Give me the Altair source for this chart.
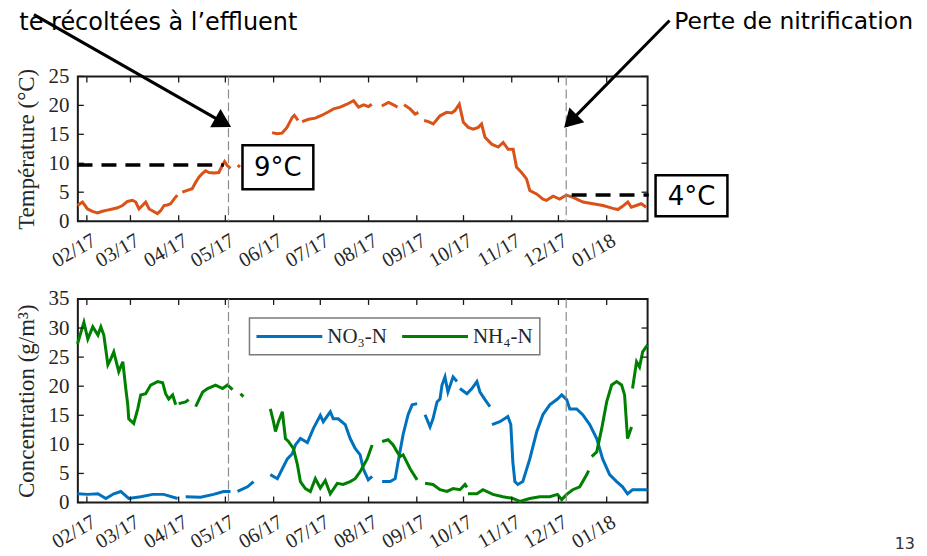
import altair as alt
import pandas as pd

# ---------------- data (days counted from 2017-02-01) ----------------
START = pd.Timestamp("2017-02-01")

# Temperature (°C); None = gap in the record
temp_day = [-6.0, -2.8, 0.4, 3.6, 6.8, 10.0, 13.2, 16.5, 19.7, 22.9, 26.1, 29.3, 31.4, 33.5, 35.7,
            37.8, 40.0, 42.1, 45.3, 47.4, 49.6, 51.7, 53.8, 56.0, 58.1, None,
            61.3, 64.5, 67.7, 69.9, 72.0, 74.1, 76.3, 78.4, 81.6, 84.8, 87.0, 88.5, 90.2, 92.3, None,
            97.0, 98.3, None,
            119.0, 122.2, 125.4, 128.6, 131.9, 133.3, 135.7, None,
            138.3, 142.5, 146.8, 151.1, 155.3, 158.5, 162.8, 167.1, 171.4, 174.6, 177.8, 181.0, 183.1, None,
            189.5, 193.8, 197.0, 199.6, None,
            203.8, 207.7, 210.9, 213.0, None,
            216.7, 219.4, 222.6, 226.9, 231.2, 234.4, 236.5, 239.3, 241.9, 245.1, 248.3, 251.5, 253.6,
            255.8, 260.1, 264.3, 267.5, 270.7, 273.9, 276.1, 279.3, 282.5, 284.6, 288.9, 293.1, 295.3,
            299.6, 303.8, 308.1, 312.4, 318.8, 325.2, 331.6, 338.0, 341.2, 344.4, 347.6, 349.8, 353.0,
            356.2, 359.4]
temp_val = [2.7, 3.3, 2.1, 1.7, 1.4, 1.7, 1.9, 2.1, 2.3, 2.7, 3.4, 3.6, 3.3, 2.1, 2.7,
            3.3, 2.1, 1.8, 1.3, 1.8, 2.7, 2.8, 3.0, 3.8, 4.5, None,
            5.0, 5.3, 5.6, 6.7, 7.6, 8.2, 8.7, 8.4, 8.3, 8.4, 9.6, 10.3, 9.6, 9.1, None,
            9.3, 9.7, None,
            15.3, 15.1, 15.2, 16.2, 17.9, 18.3, 17.4, None,
            17.2, 17.6, 17.8, 18.3, 18.9, 19.4, 19.7, 20.2, 20.8, 19.7, 20.1, 19.8, 20.2, None,
            19.9, 20.5, 20.1, 19.7, None,
            20.1, 19.4, 18.5, 18.8, None,
            17.4, 17.2, 16.8, 18.2, 18.8, 18.7, 19.1, 20.2, 17.1, 16.2, 15.9, 16.2, 16.8,
            14.5, 13.3, 12.8, 13.6, 12.4, 12.4, 9.3, 8.4, 7.3, 5.3, 4.7, 3.8, 3.6,
            4.3, 3.8, 4.5, 4.1, 3.3, 3.0, 2.7, 2.2, 2.0, 2.6, 3.3, 2.4, 2.7,
            3.0, 2.4]

# NO3-N (g/m3)
no3_day = [-6.0, 0.6, 7.1, 12.2, 17.3, 21.8, 26.9, 34.6, 42.3, 49.4, 58.3, None,
           63.5, 73.1, 81.4, 87.8, 92.3, None,
           96.8, 103.2, 107.1, None,
           117.9, 122.4, 125.6, 128.8, 132.0, 134.0, 137.2, 141.7, 145.5, 150.0, 151.9, 156.4, 158.3,
           161.5, 166.0, 169.2, 172.4, 175.6, 177.6, 180.8, 183.3, None,
           189.7, 194.9, 198.1, 200.0, 203.2, 206.4, 209.0, 212.2, None,
           217.3, 220.5, 222.4, 225.0, 226.9, 228.2, 230.1, 232.0, 235.3, 237.8, None,
           239.7, 244.2, 247.4, 250.6, 252.6, 255.8, 259.0, None,
           260.3, 265.4, 270.5, 272.4, 273.7, 275.0, 276.9, 280.1, 284.6, 289.1, 293.0, 297.4, 302.4,
           305.1, 308.3, 310.3, 314.7, 318.6, 323.1, 327.6, 331.4, 335.9, 340.4, 344.2, 347.4, 350.6,
           360.3]
no3_val = [1.5, 1.4, 1.5, 0.7, 1.5, 1.9, 0.7, 1.0, 1.4, 1.4, 0.7, None,
           1.0, 0.9, 1.4, 1.9, 1.9, None,
           1.9, 2.7, 3.6, None,
           4.8, 4.1, 5.8, 7.5, 8.4, 9.9, 11.0, 10.3, 12.7, 15.0, 13.9, 15.6, 14.4,
           14.4, 13.4, 11.0, 9.3, 8.2, 5.8, 3.9, 4.5, None,
           3.6, 3.6, 4.1, 7.0, 11.7, 15.1, 16.8, 17.0, None,
           15.1, 13.0, 14.4, 17.3, 17.8, 20.2, 21.6, 19.0, 21.6, 20.8, None,
           19.6, 18.7, 19.6, 20.8, 19.0, 17.7, 16.5, None,
           13.4, 13.9, 14.8, 13.4, 7.0, 3.6, 3.1, 3.6, 7.5, 12.2, 15.1, 16.8, 17.8,
           18.5, 17.7, 16.1, 16.1, 15.1, 13.4, 11.0, 7.5, 4.8, 3.6, 2.7, 1.5, 2.2,
           2.2]

# NH4-N (g/m3)
nh4_day = [-6.0, -3.8, -1.9, 0.6, 3.8, 7.1, 9.0, 10.9, 13.5, 15.4, 17.3, 20.5, 23.1, 25.0, 26.3,
           26.9, 30.1, 32.7, 34.6, 37.8, 41.0, 45.5, 48.7, 50.6, 52.6, 55.1, 57.1, None,
           59.0, 63.5, 65.4, None,
           69.9, 74.4, 77.6, 82.7, 87.2, 90.4, 93.6, None,
           98.7, 100.6, None,
           117.9, 119.9, 121.2, 123.1, 125.6, 127.6, 129.5, 132.7, 135.3, 137.2, 140.4, 143.6, 146.8,
           150.0, 153.2, 156.4, 160.9, 164.7, 169.2, 172.4, 175.6, 180.1, 183.3, None,
           189.7, 193.6, 196.8, 199.4, 201.3, 203.2, 207.7, 212.2, None,
           217.3, 222.4, 226.9, 231.4, 235.3, 239.7, 243.0, 244.2, None,
           244.9, 250.6, 254.5, 260.9, 267.3, 273.7, 278.2, 284.6, 291.0, 297.4, 302.4, 305.1, 308.3,
           312.2, 316.7, 321.2, 322.4, None,
           324.4, 327.6, 330.8, 334.0, 337.2, 340.4, 343.6, 345.5, 347.4, 350.0, None,
           350.6, 353.2, 355.1, 357.1, 360.3]
nh4_val = [27.3, 29.3, 31.0, 28.1, 30.2, 28.8, 30.2, 28.8, 23.7, 24.7, 25.9, 22.5, 24.2, 19.6, 16.8,
           14.4, 13.6, 16.1, 18.5, 18.7, 20.2, 20.8, 20.6, 18.7, 17.8, 18.5, 16.8, None,
           17.0, 17.3, 17.7, None,
           16.5, 19.0, 19.6, 20.2, 19.6, 20.2, 19.4, None,
           18.7, 18.2, None,
           16.1, 13.9, 12.2, 13.9, 15.6, 11.0, 10.5, 9.3, 6.5, 3.6, 2.4, 1.9, 4.1,
           2.5, 3.8, 1.5, 3.3, 3.1, 3.6, 4.1, 5.3, 7.5, 9.9, None,
           10.5, 10.8, 9.9, 8.7, 7.9, 8.2, 5.8, 3.9, None,
           3.3, 3.1, 2.2, 1.9, 2.4, 2.2, 3.1, 2.6, None,
           1.5, 1.5, 2.2, 1.4, 1.0, 0.7, 0.2, 0.7, 1.0, 1.0, 1.4, 0.5, 1.4,
           2.2, 2.7, 4.8, 5.5, None,
           7.9, 8.7, 12.7, 17.3, 20.2, 20.8, 20.2, 18.5, 11.0, 13.0, None,
           19.6, 24.2, 23.3, 25.9, 27.1]

series_names = ["NO\u2083-N", "NH\u2084-N"]
series_colors = ["#0072BD", "#008000"]
temp_color = "#D95319"

event_days = [91, 308]            # vertical dashed markers
threshold_start = [-6, 311.5]     # horizontal dashed thresholds
threshold_end = [88, 361]
threshold_level = [9.7, 4.5]
threshold_text = ["9°C", "4°C"]
arrow_tip_level = [16.5, 16.5]

month_ticks = pd.date_range("2017-02-01", "2018-01-01", freq="MS")
temp_ticks = [0, 5, 10, 15, 20, 25]
conc_ticks = [0, 5, 10, 15, 20, 25, 30, 35]

# ---------------- helpers ----------------
def to_date(d):
    return START + pd.Timedelta(days=d)

def series_df(days, vals, name):
    rows, seg = [], 0
    for d, v in zip(days, vals):
        if d is None:
            seg += 1
            continue
        rows.append({"date": to_date(d), "value": v, "seg": f"{name}-{seg}", "series": name})
    return pd.DataFrame(rows)

temp_df = series_df(temp_day, temp_val, "T")
conc_df = pd.concat([series_df(no3_day, no3_val, series_names[0]),
                     series_df(nh4_day, nh4_val, series_names[1])])

ev_df = pd.DataFrame({"date": [to_date(d) for d in event_days], "value": arrow_tip_level})
thr_df = pd.DataFrame({"date": [to_date(d) for d in threshold_start],
                       "date2": [to_date(d) for d in threshold_end],
                       "value": threshold_level, "label": threshold_text})
mt_df = pd.DataFrame({"date": month_ticks})
leg_df = pd.DataFrame({"series": series_names, "color": series_colors})

W, H1, H2 = 571, 145, 204
SERIF = "Liberation Serif"
SANS = "DejaVu Sans"
TXT = "#262626"

dom = [alt.DateTime(year=2017, month=1, date=26, hours=5),
       alt.DateTime(year=2018, month=1, date=27, hours=7)]
month_vals = [alt.DateTime(year=d.year, month=d.month, date=1) for d in month_ticks]

def x_enc():
    return alt.X("date:T", scale=alt.Scale(domain=dom, nice=False),
                 axis=alt.Axis(values=month_vals, format="%m/%y", labelAngle=330,
                               labelAlign="right", labelBaseline="top", labelPadding=9,
                               labelOffset=2,
                               labelFont=SERIF, labelFontSize=20.5, labelColor=TXT,
                               labelOverlap=False, labelFlush=False, labelBound=False,
                               ticks=False, domain=False, grid=False, title=None))

def y_enc(top, ticks, title):
    return alt.Y("value:Q", scale=alt.Scale(domain=[0, top], nice=False),
                 axis=alt.Axis(values=ticks, title=title, titleFont=SERIF, titleFontSize=23,
                               titleFontWeight="normal", titleColor=TXT, titlePadding=9,
                               labelFont=SERIF, labelFontSize=21, labelColor=TXT,
                               labelPadding=9, ticks=False, domain=False, grid=False))

def tick_layers(H, top, ticks, title):
    yt = pd.DataFrame({"value": ticks})
    c = "#1a1a1a"
    return [
        alt.Chart(mt_df).mark_rule(color=c, strokeWidth=1.3).encode(
            x=x_enc(), y=alt.value(0), y2=alt.value(6)),
        alt.Chart(mt_df).mark_rule(color=c, strokeWidth=1.3).encode(
            x=x_enc(), y=alt.value(H), y2=alt.value(H - 6)),
        alt.Chart(yt).mark_rule(color=c, strokeWidth=1.3).encode(
            y=y_enc(top, ticks, title), x=alt.value(0), x2=alt.value(6)),
        alt.Chart(yt).mark_rule(color=c, strokeWidth=1.3).encode(
            y=y_enc(top, ticks, title), x=alt.value(W), x2=alt.value(W - 6)),
    ]

# ---------------- top panel ----------------
ty = lambda: y_enc(25, temp_ticks, "Température (°C)")

anchor = alt.Chart(pd.DataFrame({"k": [0]})).mark_square(color="white", size=4, opacity=1).encode(
    x=alt.value(-68), y=alt.value(-65))
anchor_r = alt.Chart(pd.DataFrame({"k": [0]})).mark_square(color="white", size=4, opacity=1).encode(
    x=alt.value(841), y=alt.value(-65))

temp_line = alt.Chart(temp_df).mark_line(color=temp_color, strokeWidth=3).encode(
    x=x_enc(), y=ty(), detail="seg:N")

ev_top = alt.Chart(ev_df).mark_rule(color="#8c8c8c", strokeWidth=1.2, strokeDash=[9, 4]).encode(
    x=x_enc())

thr_rule = alt.Chart(thr_df).mark_rule(color="black", strokeWidth=3.5, strokeDash=[15, 9]).encode(
    x=x_enc(), x2="date2:T", y=ty())

arrow1 = alt.Chart(ev_df.iloc[[0]]).mark_rule(color="black", strokeWidth=3).encode(
    x=x_enc(), y=ty(), x2=alt.value(-44), y2=alt.value(-62))
head1 = alt.Chart(ev_df.iloc[[0]]).mark_point(shape="triangle", filled=True, size=441, angle=119.6,
                                             xOffset=-7.9, yOffset=-4.6, color="black", opacity=1).encode(
    x=x_enc(), y=ty())
arrow2 = alt.Chart(ev_df.iloc[[1]]).mark_rule(color="black", strokeWidth=3).encode(
    x=x_enc(), y=ty(), x2=alt.value(593), y2=alt.value(-56))
head2 = alt.Chart(ev_df.iloc[[1]]).mark_point(shape="triangle", filled=True, size=441, angle=224.7,
                                             xOffset=6.4, yOffset=-6.5, color="black", opacity=1).encode(
    x=x_enc(), y=ty())

box1 = alt.Chart(thr_df.iloc[[0]]).mark_rect(fill="white", stroke="black", strokeWidth=2.5).encode(
    x=alt.value(165), x2=alt.value(236), y=alt.value(69), y2=alt.value(113))
box1_t = alt.Chart(thr_df.iloc[[0]]).mark_text(font=SANS, fontSize=26, color="black", align="center",
                                              baseline="middle").encode(
    text="label:N", x=alt.value(200.5), y=alt.value(92))
box2 = alt.Chart(thr_df.iloc[[1]]).mark_rect(fill="white", stroke="black", strokeWidth=2.5).encode(
    x=alt.value(579), x2=alt.value(651), y=alt.value(99), y2=alt.value(140))
box2_t = alt.Chart(thr_df.iloc[[1]]).mark_text(font=SANS, fontSize=26, color="black", align="center",
                                              baseline="middle").encode(
    text="label:N", x=alt.value(615), y=alt.value(120.5))

note_df = pd.DataFrame({"t": ["te récoltées à l\u2019effluent", "Perte de nitrification"]})
note1 = alt.Chart(note_df.iloc[[0]]).mark_text(font=SANS, fontSize=24, color="black", align="right",
                                              baseline="alphabetic").encode(
    text="t:N", x=alt.value(220), y=alt.value(-47))
note2 = alt.Chart(note_df.iloc[[1]]).mark_text(font=SANS, fontSize=23.5, color="black", align="right",
                                              baseline="alphabetic").encode(
    text="t:N", x=alt.value(837), y=alt.value(-48))

top = alt.layer(
    anchor, anchor_r, temp_line, *tick_layers(H1, 25, temp_ticks, "Température (°C)"),
    ev_top, thr_rule, arrow1, arrow2, head1, head2, box1, box1_t, box2, box2_t, note1, note2
).properties(width=W, height=H1)

# ---------------- bottom panel ----------------
cy = lambda: y_enc(35, conc_ticks, "Concentration (g/m³)")

conc_lines = alt.Chart(conc_df).mark_line(strokeWidth=3).encode(
    x=x_enc(), y=cy(), detail="seg:N",
    color=alt.Color("series:N", scale=alt.Scale(domain=series_names, range=series_colors),
                    legend=None))

ev_bot = alt.Chart(ev_df).mark_rule(color="#8c8c8c", strokeWidth=1.2, strokeDash=[9, 4]).encode(
    x=x_enc())

# legend drawn as a framed key
leg_box = alt.Chart(leg_df.iloc[[0]]).mark_rect(fill="white", stroke="#7a7a7a", strokeWidth=1.5).encode(
    x=alt.value(172), x2=alt.value(463), y=alt.value(19), y2=alt.value(56))
leg_sym1 = alt.Chart(leg_df.iloc[[0]]).mark_rule(color=series_colors[0], strokeWidth=3).encode(
    x=alt.value(179), x2=alt.value(245), y=alt.value(37.5))
leg_sym2 = alt.Chart(leg_df.iloc[[1]]).mark_rule(color=series_colors[1], strokeWidth=3).encode(
    x=alt.value(325), x2=alt.value(391), y=alt.value(37.5))
leg_lab1 = alt.Chart(leg_df.iloc[[0]]).mark_text(font=SERIF, fontSize=21, color=TXT, align="left",
                                                baseline="middle").encode(
    text="series:N", x=alt.value(250), y=alt.value(38))
leg_lab2 = alt.Chart(leg_df.iloc[[1]]).mark_text(font=SERIF, fontSize=21, color=TXT, align="left",
                                                baseline="middle").encode(
    text="series:N", x=alt.value(396), y=alt.value(38))

page_no = alt.Chart(pd.DataFrame({"t": ["13"]})).mark_text(font=SANS, fontSize=16, color="#333333",
                                                          align="right", baseline="alphabetic").encode(
    text="t:N", x=alt.value(839), y=alt.value(251))

bottom = alt.layer(
    conc_lines, *tick_layers(H2, 35, conc_ticks, "Concentration (g/m³)"), ev_bot,
    leg_box, leg_sym1, leg_sym2, leg_lab1, leg_lab2, page_no
).properties(width=W, height=H2)

chart = alt.vconcat(top, bottom, spacing=78, bounds="flush").properties(
    padding=0, background="white"
).configure_view(stroke="#1a1a1a", strokeWidth=2)

chart.save("out.html", embed_options={"renderer": "svg", "actions": False})
